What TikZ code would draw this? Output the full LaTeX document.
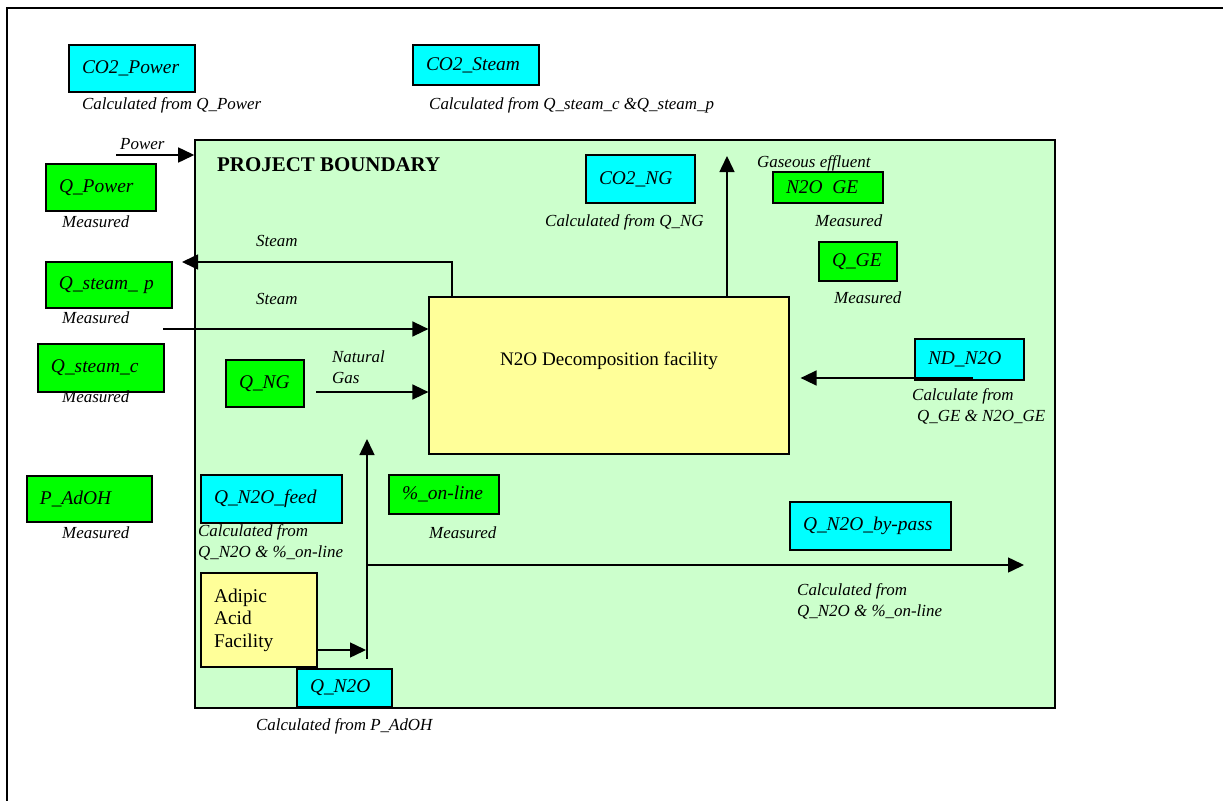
\documentclass[tikz,border=0pt]{standalone}
\usepackage{fontspec}
\setmainfont{Liberation Serif}
\usetikzlibrary{arrows.meta}
\definecolor{calcfill}{HTML}{00FFFF}
\definecolor{measfill}{HTML}{00FF00}
\definecolor{projfill}{HTML}{CCFFCC}
\definecolor{unitfill}{HTML}{FFFF99}
\tikzset{
  box/.style 2 args={draw, line width=1.2bp, inner xsep=13bp, inner ysep=0pt, text width=#1bp, minimum height=#2bp, align=left, font=\fontsize{19.5}{22.5}\selectfont\itshape},
  calc/.style 2 args={box={#1}{#2}, fill=calcfill},
  meas/.style 2 args={box={#1}{#2}, fill=measfill},
  unit/.style={draw, line width=1.2bp, fill=unitfill},
  note/.style={inner sep=0pt, anchor=west, align=left, font=\fontsize{17}{21}\selectfont\itshape},
  flow/.style={line width=1.5bp, -{Triangle[length=16bp,width=15bp]}}
}
\begin{document}
\begin{tikzpicture}[x=1bp, y=-1bp]
      \useasboundingbox (0,0) rectangle (1223,801);
      \draw[line width=1.2bp] (1223,8) -| (7,801);

      \node[draw, line width=1.5bp, fill=projfill, minimum width=860bp, minimum height=568bp] (boundary) at (625,424) {};
      \node[anchor=west, inner sep=0pt, font=\fontsize{21}{24}\selectfont\bfseries] (projlbl) at (217,165) {PROJECT BOUNDARY};

      \node[calc={100}{47}] (co2power) at (132,68.5) {CO2\_Power};
      \node[calc={100}{40}] (co2steam) at (476,65) {CO2\_Steam};
      \node[meas={84}{47}] (qpower) at (101,187.5) {Q\_Power};
      \node[calc={83}{48}] (co2ng) at (640.5,179) {CO2\_NG};
      \node[meas={84}{31}] (n2oge) at (828,187.5) {N2O\enspace GE};
      \node[meas={52}{39}] (qge) at (858,261.5) {Q\_GE};
      \node[calc={83}{41}] (ndn2o) at (969.5,359.5) {ND\_N2O};
      \node[meas={100}{46}] (qsteamp) at (109,285) {Q\_steam\_\ p};
      \node[meas={100}{48}] (qsteamc) at (101,368) {Q\_steam\_c};
      \node[meas={52}{47}] (qng) at (265,383.5) {Q\_NG};
      \node[meas={99}{46}] (padoh) at (89.5,499) {P\_AdOH};
      \node[calc={115}{48}] (qnofeed) at (271.5,499) {Q\_N2O\_feed};
      \node[meas={84}{39}] (online) at (444,494.5) {\%\_on-line};
      \node[calc={135}{48}] (bypass) at (870.5,526) {Q\_N2O\_by-pass};
      \node[calc={69}{38}] (qno) at (344.5,688) {Q\_N2O};

      \node[unit, minimum width=360bp, minimum height=157bp, label={[yshift=14.5bp, font=\fontsize{19.2}{22}\selectfont]center:N2O Decomposition facility}] (decomp) at (609,375.5) {};
      \node[box={90}{94}, unit, font=\fontsize{19.5}{22.5}\selectfont] (adipic) at (259,620) {Adipic\\Acid\\Facility};

      \coordinate (pwrin) at (116,155);
      \draw[flow] (pwrin) -- (pwrin -| boundary.west);
      \coordinate (stmret) at (452,262);
      \coordinate (stmout) at (182,262);
      \draw[flow] (stmret |- decomp.north) -- (stmret) -- (stmout);
      \coordinate (stmin) at (163,329);
      \draw[flow] (stmin) -- (stmin -| decomp.west);
      \coordinate (ngin) at (316,392);
      \draw[flow] (ngin) -- (ngin -| decomp.west);
      \coordinate (geout) at (727,156);
      \draw[flow] (geout |- decomp.north) -- (geout);
      \coordinate (ndin) at (973,378);
      \draw[flow, shorten >=11bp] (ndin) -- (ndin -| decomp.east);
      \coordinate (feedin) at (366,650);
      \draw[flow] (adipic.east |- feedin) -- (feedin);
      \coordinate (feedbot) at (367,659);
      \coordinate (feedtop) at (367,439);
      \draw[flow] (feedbot) -- (feedtop);
      \coordinate (bypassout) at (1024,565);
      \draw[flow] (feedbot |- bypassout) -- (bypassout);

      \node[note] (co2powerlbl) at (82,105) {Calculated from Q\_Power};
      \node[note] (co2steamlbl) at (429,105) {Calculated from Q\_steam\_c \&Q\_steam\_p};
      \node[note] (pwrlbl) at (120,144) {Power};
      \node[note] (qpowerlbl) at (62,222) {Measured};
      \node[note] (co2nglbl) at (545,222) {Calculated from Q\_NG};
      \node[note] (gelbl) at (757,163) {Gaseous effluent};
      \node[note] (n2ogelbl) at (815,221) {Measured};
      \node[note] (qgelbl) at (834,298) {Measured};
      \node[note] (ndn2olbl) at (912,406.5) {Calculate from\\\hspace*{5bp}Q\_GE \& N2O\_GE};
      \node[note] (stmoutlbl) at (256,241) {Steam};
      \node[note] (stminlbl) at (256,299) {Steam};
      \node[note] (qsteamplbl) at (62,318) {Measured};
      \node[note] (qsteamclbl) at (62,397) {Measured};
      \node[note] (nglbl) at (332,367.5) {Natural\\Gas};
      \node[note] (padohlbl) at (62,533) {Measured};
      \node[note] (qnofeedlbl) at (198,542.5) {Calculated from\\Q\_N2O \& \%\_on-line};
      \node[note] (onlinelbl) at (429,533) {Measured};
      \node[note] (bypasslbl) at (797,601) {Calculated from\\Q\_N2O \& \%\_on-line};
      \node[note] (qnolbl) at (256,726) {Calculated from P\_AdOH};
\end{tikzpicture}
\end{document}
